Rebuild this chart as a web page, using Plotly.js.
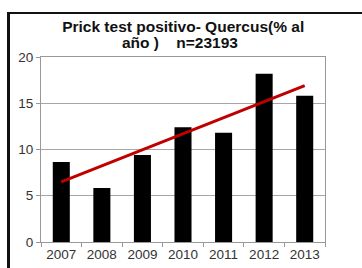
<!DOCTYPE html>
<html>
<head>
<meta charset="utf-8">
<script src="https://cdn.plot.ly/plotly-3.0.1.min.js"></script>
<style>
html,body{margin:0;padding:0;background:#fff;}
#wrap{position:relative;width:362px;height:268px;overflow:hidden;}
#frame{position:absolute;left:7px;top:12px;width:400px;height:300px;border-left:3px solid #111;border-top:2px solid #111;}
#chart{position:absolute;left:0;top:0;width:362px;height:268px;}
</style>
</head>
<body>
<div id="wrap"><div id="frame"></div><div id="chart"></div></div>
<script>
const years = ['2007','2008','2009','2010','2011','2012','2013'];
const values = [8.65, 5.85, 9.4, 12.4, 11.8, 18.2, 15.8];
const trendYears = ['2007','2013'];
const trendValues = [6.5, 16.9];
const yTicks = [0, 5, 10, 15, 20];
const titleLine1 = 'Prick test positivo- Quercus(% al';
const titleLine2 = 'año )    n=23193';

const FONT = 'Liberation Sans, Arial, sans-serif';
const data = [
  {type:'bar', x: years, y: values, marker:{color:'#000'}, hoverinfo:'none'},
  {type:'scatter', mode:'lines', x: trendYears, y: trendValues, line:{color:'#c00000', width:3}, hoverinfo:'none'}
];
const layout = {
  width:362, height:268,
  margin:{l:41, r:37, t:57, b:26},
  paper_bgcolor:'rgba(0,0,0,0)', plot_bgcolor:'#fff',
  showlegend:false,
  bargap:0.58,
  title:{text:'<b>' + titleLine1 + '</b>', x:0.506, xanchor:'center', xref:'container', yref:'container', y:0.90, yanchor:'middle',
         font:{family:FONT, size:15.5, color:'#111'}},
  annotations:[{text:'<b>' + titleLine2 + '</b>', xref:'paper', yref:'paper', x:0.49, y:1.076, xanchor:'center', yanchor:'middle',
         showarrow:false, font:{family:FONT, size:15.5, color:'#111'}}],
  xaxis:{type:'category', range:[-0.5,6.5], tickson:'boundaries', ticks:'outside', ticklen:4, tickcolor:'#999',
         showline:true, linecolor:'#999', mirror:true, showgrid:false,
         tickfont:{family:FONT, size:13.5, color:'#333'}},
  yaxis:{range:[0,20], tickvals:yTicks, ticks:'outside', ticklen:4, tickcolor:'#999',
         showline:true, linecolor:'#999', mirror:true, showgrid:true, gridcolor:'#a6a6a6', zeroline:false,
         tickfont:{family:FONT, size:13.5, color:'#333'}}
};
Plotly.newPlot('chart', data, layout, {staticPlot:true, displayModeBar:false});
</script>
</body>
</html>
